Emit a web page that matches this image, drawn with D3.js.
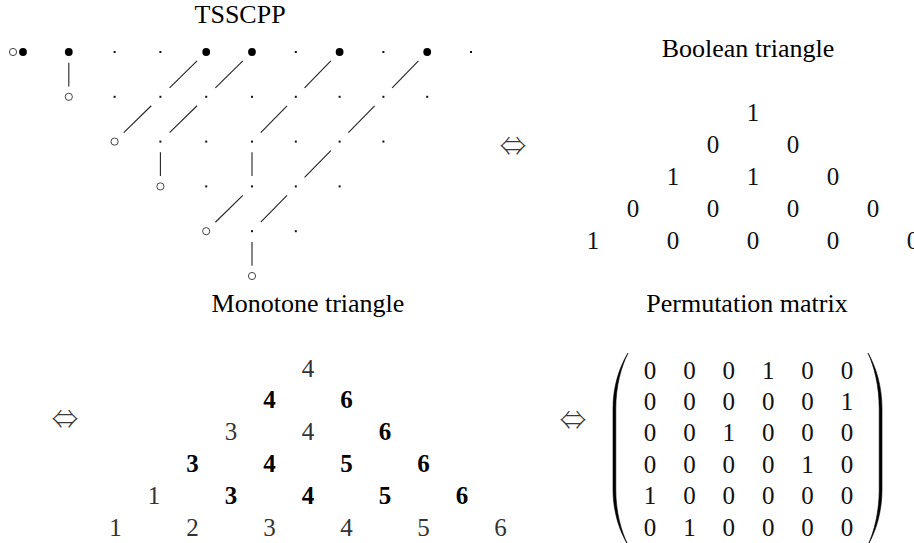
<!DOCTYPE html>
<html><head><meta charset="utf-8">
<script src="https://cdn.jsdelivr.net/npm/d3@7"></script>
<style>body{margin:0;background:#fff}svg{display:block}</style>
</head><body><svg id="c" width="914" height="543"></svg>
<script>
// ---------- data ----------
const titles = ["TSSCPP", "Boolean triangle", "Monotone triangle", "Permutation matrix"];
const equivSymbol = "\u21D4";
// TSSCPP nodes: row r starts at column r. "F" filled, "o" open, "." point, "oF" open+filled pair
const tsscppRows = [
  ["oF", "F", ".", ".", "F", "F", ".", "F", ".", "F", "."],
  ["o", ".", ".", ".", ".", ".", ".", ".", "."],
  ["o", ".", ".", ".", ".", ".", "."],
  ["o", ".", ".", ".", "."],
  ["o", ".", "."],
  ["o"]
];
// edges given as [row, col]; vertical goes to [row+1, col], diagonal to [row+1, col-1]
const tsscppVertical = [[0, 1], [2, 3], [2, 5], [4, 5]];
const tsscppDiagonal = [[0, 4], [0, 5], [0, 7], [0, 9], [1, 3], [1, 4], [1, 6], [1, 8], [2, 7], [3, 5], [3, 6]];
const booleanRows = [[1], [0, 0], [1, 1, 0], [0, 0, 0, 0], [1, 0, 0, 0, 0]];
const monotoneRows = [[4], [4, 6], [3, 4, 6], [3, 4, 5, 6], [1, 3, 4, 5, 6], [1, 2, 3, 4, 5, 6]];
const monotoneBold = [[0], [1, 1], [0, 0, 1], [1, 1, 1, 1], [0, 1, 1, 1, 1], [0, 0, 0, 0, 0, 0]];
const permutation = [
  [0, 0, 0, 1, 0, 0],
  [0, 0, 0, 0, 0, 1],
  [0, 0, 1, 0, 0, 0],
  [0, 0, 0, 0, 1, 0],
  [1, 0, 0, 0, 0, 0],
  [0, 1, 0, 0, 0, 0]
];

// ---------- setup ----------
const W = 914, H = 543;
const svg = d3.select("#c");
svg.append("rect").attr("width", W).attr("height", H).attr("fill", "#fff");
const serif = "'Liberation Serif','Times New Roman',serif";
const digitSize = 25, titleSize = 26;

function title(txt, x, y) {
  svg.append("text").attr("x", x).attr("y", y).attr("text-anchor", "middle")
    .attr("font-family", serif).attr("font-size", titleSize).attr("fill", "#000").text(txt);
}
function equiv(x, y) {
  svg.append("text").attr("x", x).attr("y", y).attr("text-anchor", "middle")
    .attr("dominant-baseline", "central").attr("font-family", "'Noto Sans CJK JP','DejaVu Sans',sans-serif")
    .attr("font-weight", 300).attr("font-size", 27).attr("fill", "#3a3a3a").text(equivSymbol);
}

// ---------- TSSCPP ----------
const tsX = d3.scaleLinear().domain([0, 5, 10]).range([23, 252, 471]);
const tsY = d3.scaleLinear().domain([0, tsscppRows.length - 1]).range([52, 276]);
title(titles[0], tsX(4.74), 23);

const gT = svg.append("g");
const nodes = [];
tsscppRows.forEach((row, r) => row.forEach((code, j) => nodes.push({ r, c: r + j, code })));

function seg(r0, c0, r1, c1, t0, t1) {
  const x0 = tsX(c0), y0 = tsY(r0), x1 = tsX(c1), y1 = tsY(r1);
  return [x0 + (x1 - x0) * t0, y0 + (y1 - y0) * t0, x0 + (x1 - x0) * t1, y0 + (y1 - y0) * t1];
}
const edges = tsscppVertical.map(([r, c]) => seg(r, c, r + 1, c, 0.24, 0.77))
  .concat(tsscppDiagonal.map(([r, c]) => seg(r, c, r + 1, c - 1, 0.2, 0.8)));
gT.selectAll("line.e").data(edges).join("line").attr("class", "e")
  .attr("x1", d => d[0]).attr("y1", d => d[1]).attr("x2", d => d[2]).attr("y2", d => d[3])
  .attr("stroke", "#222").attr("stroke-width", 1.1);

gT.selectAll("rect.p").data(nodes.filter(d => d.code === ".")).join("rect").attr("class", "p")
  .attr("x", d => tsX(d.c) - 1).attr("y", d => tsY(d.r) - 1).attr("width", 2).attr("height", 2).attr("fill", "#111");
gT.selectAll("circle.f").data(nodes.filter(d => d.code === "F" || d.code === "oF")).join("circle").attr("class", "f")
  .attr("cx", d => tsX(d.c)).attr("cy", d => tsY(d.r)).attr("r", 3.9).attr("fill", "#000");
gT.selectAll("circle.o").data(nodes.filter(d => d.code === "o" || d.code === "oF")).join("circle").attr("class", "o")
  .attr("cx", d => tsX(d.c) - (d.code === "oF" ? 10 : 0)).attr("cy", d => tsY(d.r)).attr("r", 3.6)
  .attr("fill", "#fff").attr("stroke", "#444").attr("stroke-width", 1);

// ---------- Boolean triangle ----------
equiv(513, tsY(2) + 3);
const bX = d3.scaleLinear().domain([-2, 2]).range([593, 913]);
const bY = d3.scaleLinear().domain([0, booleanRows.length - 1]).range([112, 240]);
title(titles[1], 748, 57);
const bCells = [];
booleanRows.forEach((row, r) => row.forEach((v, i) => bCells.push({ r, i, v })));
svg.append("g").selectAll("text").data(bCells).join("text")
  .attr("x", d => bX(d.i - d.r / 2)).attr("y", d => bY(d.r))
  .attr("text-anchor", "middle").attr("dominant-baseline", "central")
  .attr("font-family", serif).attr("font-size", digitSize).attr("fill", "#111").text(d => d.v);

// ---------- Monotone triangle ----------
const mX = d3.scaleLinear().domain([-2.5, 2.5]).range([115.5, 500.5]);
const mY = d3.scaleLinear().domain([0, monotoneRows.length - 1]).range([368, 527]);
title(titles[2], 308, 312);
equiv(65, 417);
const mCells = [];
monotoneRows.forEach((row, r) => row.forEach((v, i) => mCells.push({ r, i, v, b: monotoneBold[r][i] })));
svg.append("g").selectAll("text").data(mCells).join("text")
  .attr("x", d => mX(d.i - d.r / 2)).attr("y", d => mY(d.r))
  .attr("text-anchor", "middle").attr("dominant-baseline", "central")
  .attr("font-family", serif).attr("font-size", digitSize)
  .attr("font-weight", d => d.b ? "bold" : "normal")
  .attr("fill", d => d.b ? "#000" : "#333").text(d => d.v);

// ---------- Permutation matrix ----------
const pX = d3.scaleLinear().domain([0, 5]).range([650, 847]);
const pY = d3.scaleLinear().domain([0, 5]).range([370, 527]);
title(titles[3], 747, 312);
equiv(573, 418);
const pCells = [];
permutation.forEach((row, r) => row.forEach((v, c) => pCells.push({ r, c, v })));
svg.append("g").selectAll("text").data(pCells).join("text")
  .attr("x", d => pX(d.c)).attr("y", d => pY(d.r))
  .attr("text-anchor", "middle").attr("dominant-baseline", "central")
  .attr("font-family", serif).attr("font-size", digitSize).attr("fill", "#111").text(d => d.v);

function paren(xTip, xOuter, yTop, yBot, t) {
  const h = yBot - yTop;
  const s = Math.sign(xOuter - xTip);
  const xi = xOuter - s * t;
  const p = d3.path();
  p.moveTo(xTip, yTop);
  p.bezierCurveTo(xTip + 0.55 * (xOuter - xTip), yTop + 0.07 * h, xOuter, yTop + 0.17 * h, xOuter, yTop + 0.29 * h);
  p.lineTo(xOuter, yBot - 0.29 * h);
  p.bezierCurveTo(xOuter, yBot - 0.17 * h, xTip + 0.55 * (xOuter - xTip), yBot - 0.07 * h, xTip, yBot);
  p.bezierCurveTo(xTip + 0.55 * (xi - xTip), yBot - 0.07 * h, xi, yBot - 0.17 * h, xi, yBot - 0.29 * h);
  p.lineTo(xi, yTop + 0.29 * h);
  p.bezierCurveTo(xi, yTop + 0.17 * h, xTip + 0.55 * (xi - xTip), yTop + 0.07 * h, xTip, yTop);
  p.closePath();
  return p.toString();
}
const yTop = pY(0) - 17, yBot = pY(5) + 18;
svg.append("path").attr("d", paren(pX(0) - 22, pX(0) - 37, yTop, yBot, 2.8))
  .attr("fill", "#000").attr("stroke", "#000").attr("stroke-width", 0.6);
svg.append("path").attr("d", paren(pX(5) + 21, pX(5) + 35, yTop, yBot, 2.8))
  .attr("fill", "#000").attr("stroke", "#000").attr("stroke-width", 0.6);
</script>
</body></html>
